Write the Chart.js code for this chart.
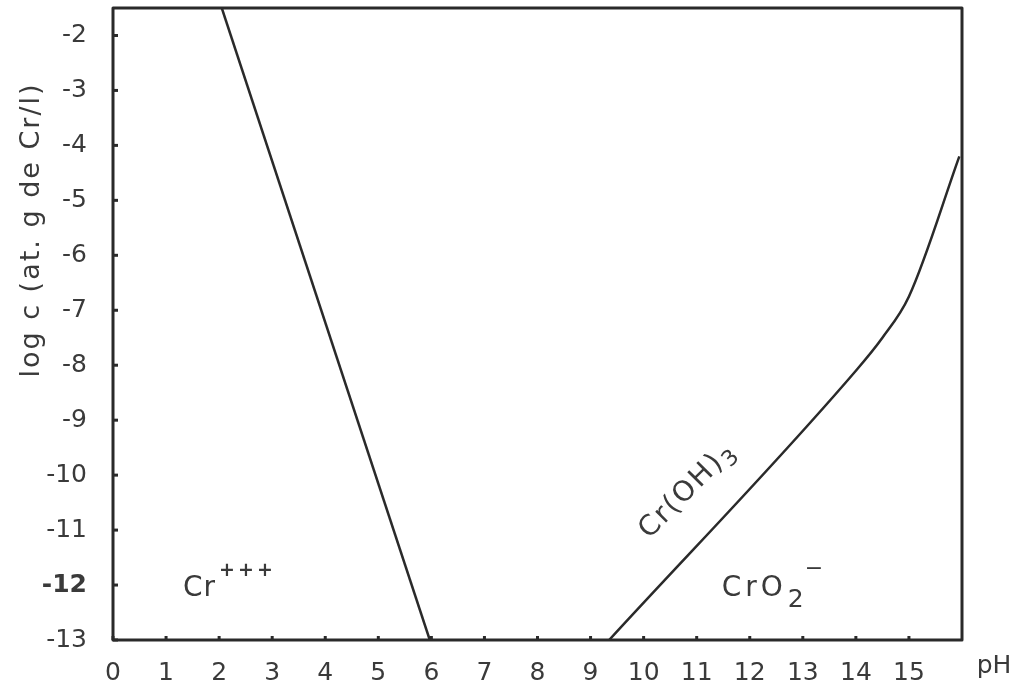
<!DOCTYPE html>
<html>
<head>
<meta charset="utf-8">
<script src="https://cdn.jsdelivr.net/npm/chart.js@4"></script>
<style>
html,body{margin:0;padding:0;background:#fff;}
#wrap{width:1026px;height:697px;}
</style>
</head>
<body>
<div id="wrap"><canvas id="c" width="1026" height="697"></canvas></div>
<script>
// ---- data ----
const xTicks = [0,1,2,3,4,5,6,7,8,9,10,11,12,13,14,15];
const yTicks = [-2,-3,-4,-5,-6,-7,-8,-9,-10,-11,-12,-13];
const crIonLineX = [2.05, 5.97];
const crIonLineY = [-1.5, -13];
const crOH3LineX = [9.35, 14.0, 14.5, 15.0, 15.95];
const crOH3LineY = [-13, -8.1, -7.5, -6.75, -4.2];
const xRange = [0, 16];
const yRange = [-13, -1.5];

const INK = '#2a2a2a';
const TXT = '#3a3a3a';
const FONT = '"DejaVu Sans", sans-serif';

function pts(xs, ys){ return xs.map((x,i)=>({x:x,y:ys[i]})); }
function spacing(ctx, v){ try { ctx.letterSpacing = v; } catch(e) {} }

const decor = {
  id:'decor',
  afterDraw(chart){
    const ctx = chart.ctx, a = chart.chartArea;
    const xs = chart.scales.x, ys = chart.scales.y;
    ctx.save();
    // frame
    ctx.strokeStyle = INK; ctx.lineWidth = 3; ctx.lineJoin='round';
    ctx.strokeRect(a.left, a.top, a.right-a.left, a.bottom-a.top);
    // tick nubs
    ctx.lineWidth = 3;
    xTicks.forEach(v=>{ const px = xs.getPixelForValue(v);
      ctx.beginPath(); ctx.moveTo(px, a.bottom); ctx.lineTo(px, a.bottom-4); ctx.stroke(); });
    yTicks.forEach(v=>{ const py = ys.getPixelForValue(v);
      ctx.beginPath(); ctx.moveTo(a.left, py); ctx.lineTo(a.left+5, py); ctx.stroke(); });
    // pH label
    ctx.fillStyle = TXT; ctx.font = '25px '+FONT; ctx.textAlign='center'; ctx.textBaseline='middle';
    ctx.fillText('pH', a.right+32, a.bottom+26);
    // y title
    ctx.save();
    ctx.translate(32, 230); ctx.rotate(-Math.PI/2);
    ctx.font = '27px '+FONT;
    spacing(ctx, '2px');
    ctx.fillText('log c (at. g de Cr/l)', 0, 0);
    spacing(ctx, '0px');
    ctx.restore();
    // Cr+++
    ctx.textAlign='left'; ctx.textBaseline='alphabetic';
    let bx = xs.getPixelForValue(1.32), by = ys.getPixelForValue(-12.2);
    ctx.font = '28px '+FONT;
    spacing(ctx, '1px');
    ctx.fillText('Cr', bx, by);
    let w = ctx.measureText('Cr').width;
    ctx.font = 'bold 19px '+FONT;
    spacing(ctx, '3px');
    ctx.fillText('+++', bx + w + 3, by - 20);
    // CrO2-
    bx = xs.getPixelForValue(11.47); by = ys.getPixelForValue(-12.2);
    ctx.font = '28px '+FONT;
    spacing(ctx, '4px');
    ctx.fillText('CrO', bx, by);
    w = ctx.measureText('CrO').width;
    spacing(ctx, '0px');
    ctx.font = '25px '+FONT;
    ctx.fillText('2', bx + w + 1, by + 11);
    const w2 = ctx.measureText('2').width;
    ctx.font = '22px '+FONT;
    ctx.fillText('\u2212', bx + w + w2 + 2, by - 21);
    // Cr(OH)3 rotated
    ctx.save();
    ctx.translate(xs.getPixelForValue(10.1), ys.getPixelForValue(-11.17));
    ctx.rotate(-45*Math.PI/180);
    ctx.font = '28px '+FONT;
    spacing(ctx, '2px');
    ctx.fillText('Cr(OH)', 0, 0);
    w = ctx.measureText('Cr(OH)').width;
    spacing(ctx, '0px');
    ctx.font = '22px '+FONT;
    ctx.fillText('3', w, 7);
    ctx.restore();
    ctx.restore();
  }
};

new Chart(document.getElementById('c'), {
  type:'scatter',
  data:{ datasets:[
    { data: pts(crIonLineX, crIonLineY), showLine:true, borderColor:INK, borderWidth:2.5, pointRadius:0, fill:false },
    { data: pts(crOH3LineX, crOH3LineY), showLine:true, borderColor:INK, borderWidth:2.5, pointRadius:0, fill:false, cubicInterpolationMode:'monotone' }
  ]},
  options:{
    responsive:false, animation:false,
    layout:{ padding:{ top:8, right:64, left:0, bottom:0 } },
    plugins:{ legend:{display:false}, tooltip:{enabled:false} },
    scales:{
      x:{ type:'linear', min:xRange[0], max:xRange[1],
        afterBuildTicks(s){ s.ticks = xTicks.map(v=>({value:v})); },
        afterFit(s){ s.height = 57; s.paddingLeft = 0; s.paddingRight = 0; },
        grid:{ display:false }, border:{ display:false },
        ticks:{ color:TXT, font:{ family:FONT, size:25 }, padding:10, maxRotation:0, autoSkip:false }
      },
      y:{ type:'linear', min:yRange[0], max:yRange[1],
        afterBuildTicks(s){ s.ticks = yTicks.map(v=>({value:v})); },
        afterFit(s){ s.width = 113; s.paddingTop = 0; s.paddingBottom = 0; },
        grid:{ display:false }, border:{ display:false },
        ticks:{ color:TXT, padding:18, autoSkip:false,
          font:(c)=>({ family:FONT, size:25, weight: (c.tick && c.tick.value===-12) ? 'bold':'normal' }),
          callback:(v)=> '-' + Math.abs(v) }
      }
    }
  },
  plugins:[decor]
});
</script>
</body>
</html>
